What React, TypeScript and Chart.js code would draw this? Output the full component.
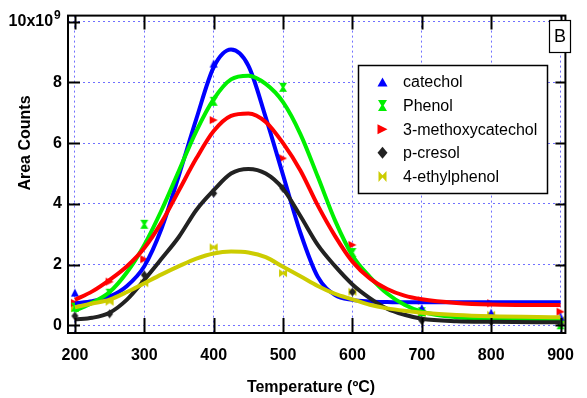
import React, { useEffect, useRef } from 'react';
import { Chart, registerables } from 'chart.js';

Chart.register(...registerables);

// ---- data (values in units of 10^9 area counts) ----
const measuredTemps = [200, 250, 300, 400, 500, 600, 700, 800, 900];
const catecholPts = [1.08, null, null, 8.62, null, null, 0.57, 0.42, 0.29];
const phenolPts = [0.6, 1.06, 3.33, 7.38, 7.84, 2.4, 0.45, null, 0.02];
const methoxyPts = [0.74, 1.44, 2.18, 6.76, 5.5, 2.65, 0.82, 0.73, 0.45];
const cresolPts = [0.31, 0.38, 1.66, 4.35, 4.51, 1.1, 0.16, 0.13, 0.05];
const ethylPts = [0.57, 0.78, 1.39, 2.57, 1.72, 1.11, 0.4, 0.35, 0.18];

const fitTemps = [200, 225, 250, 275, 300, 325, 350, 375, 400, 425, 450, 475, 500, 525, 550, 575, 600, 625, 650, 675, 700, 750, 800, 900];
const catecholFit = [0.73, 0.8, 0.95, 1.3, 1.95, 3.2, 4.95, 6.8, 8.5, 9.08, 8.55, 6.85, 4.95, 3.05, 1.6, 1.0, 0.84, 0.79, 0.77, 0.76, 0.76, 0.76, 0.76, 0.76];
const phenolFit = [0.48, 0.75, 1.1, 1.75, 2.65, 3.8, 5.1, 6.4, 7.45, 8.1, 8.22, 7.95, 7.35, 6.3, 4.9, 3.45, 2.3, 1.6, 1.05, 0.68, 0.45, 0.27, 0.22, 0.2];
const methoxyFit = [0.84, 1.12, 1.5, 1.95, 2.55, 3.4, 4.45, 5.5, 6.4, 6.9, 6.98, 6.7, 6.0, 5.1, 3.95, 2.94, 2.1, 1.55, 1.2, 0.98, 0.86, 0.74, 0.69, 0.67];
const cresolFit = [0.2, 0.25, 0.42, 0.85, 1.5, 2.2, 2.92, 3.8, 4.45, 5.0, 5.15, 5.0, 4.5, 3.6, 2.65, 1.95, 1.35, 0.9, 0.55, 0.35, 0.22, 0.14, 0.12, 0.1];
const ethylFit = [0.6, 0.72, 0.85, 1.1, 1.39, 1.68, 1.95, 2.2, 2.37, 2.43, 2.4, 2.25, 1.93, 1.62, 1.3, 1.04, 0.86, 0.68, 0.56, 0.48, 0.42, 0.34, 0.3, 0.27];

const seriesNames = ['catechol', 'Phenol', '3-methoxycatechol', 'p-cresol', '4-ethylphenol'];
const seriesColors = ['#0000ff', '#00f000', '#ff0000', '#222222', '#cccc00'];
const seriesShapes = ['up', 'hourglass', 'right', 'diamond', 'bowtie'];

const xTicks = [200, 300, 400, 500, 600, 700, 800, 900];
const yTicks = [0, 2, 4, 6, 8, 10];

const FONT = '"Liberation Sans", Arial, Helvetica, sans-serif';

function drawShape(ctx: CanvasRenderingContext2D, kind: string, cx: number, cy: number, w: number, h: number, color: string) {
  ctx.save();
  ctx.fillStyle = color;
  ctx.beginPath();
  const n = 1.2;
  switch (kind) {
    case 'up':
      ctx.moveTo(cx, cy - h / 2);
      ctx.lineTo(cx + w / 2, cy + h / 2);
      ctx.lineTo(cx - w / 2, cy + h / 2);
      break;
    case 'right':
      ctx.moveTo(cx + w / 2, cy);
      ctx.lineTo(cx - w / 2, cy - h / 2);
      ctx.lineTo(cx - w / 2, cy + h / 2);
      break;
    case 'diamond':
      ctx.moveTo(cx, cy - h / 2);
      ctx.lineTo(cx + w / 2, cy);
      ctx.lineTo(cx, cy + h / 2);
      ctx.lineTo(cx - w / 2, cy);
      break;
    case 'hourglass':
      ctx.moveTo(cx - w / 2, cy - h / 2);
      ctx.lineTo(cx + w / 2, cy - h / 2);
      ctx.lineTo(cx + n, cy);
      ctx.lineTo(cx + w / 2, cy + h / 2);
      ctx.lineTo(cx - w / 2, cy + h / 2);
      ctx.lineTo(cx - n, cy);
      break;
    case 'bowtie':
      ctx.moveTo(cx - w / 2, cy - h / 2);
      ctx.lineTo(cx, cy - n);
      ctx.lineTo(cx + w / 2, cy - h / 2);
      ctx.lineTo(cx + w / 2, cy + h / 2);
      ctx.lineTo(cx, cy + n);
      ctx.lineTo(cx - w / 2, cy + h / 2);
      break;
  }
  ctx.closePath();
  ctx.fill();
  ctx.restore();
}

function makeMarker(kind: string, color: string, w: number, h: number) {
  const c = document.createElement('canvas');
  c.width = Math.ceil(w) + 2;
  c.height = Math.ceil(h) + 2;
  const ctx = c.getContext('2d')!;
  drawShape(ctx, kind, c.width / 2, c.height / 2, w, h, color);
  return c;
}

const plotMarkerSize: Record<string, [number, number]> = {
  up: [8, 8],
  hourglass: [8, 9],
  right: [8, 8],
  diamond: [7, 9],
  bowtie: [8, 8],
};
const legendMarkerSize: Record<string, [number, number]> = {
  up: [10, 9],
  hourglass: [9, 11],
  right: [10, 10],
  diamond: [10, 12],
  bowtie: [8, 11],
};

export default function App() {
  const ref = useRef<HTMLCanvasElement>(null);

  useEffect(() => {
    document.body.style.margin = '0';
    const canvas = ref.current!;
    const ptsArrays = [catecholPts, phenolPts, methoxyPts, cresolPts, ethylPts];
    const fitArrays = [catecholFit, phenolFit, methoxyFit, cresolFit, ethylFit];

    const datasets: any[] = [];
    ptsArrays.forEach((arr, i) => {
      const [w, h] = plotMarkerSize[seriesShapes[i]];
      datasets.push({
        label: seriesNames[i],
        data: measuredTemps.map((t, j) => ({ x: t, y: arr[j] })),
        showLine: false,
        pointStyle: makeMarker(seriesShapes[i], seriesColors[i], w, h),
        pointRadius: 4,
        backgroundColor: seriesColors[i],
        borderColor: seriesColors[i],
        order: 10,
      });
    });
    fitArrays.forEach((arr, i) => {
      datasets.push({
        label: seriesNames[i] + ' fit',
        data: fitTemps.map((t, j) => ({ x: t, y: arr[j] })),
        showLine: true,
        pointRadius: 0,
        borderWidth: 4,
        borderColor: seriesColors[i],
        backgroundColor: seriesColors[i],
        cubicInterpolationMode: 'monotone',
        fill: false,
        order: 4 - i,
      });
    });

    const decor = {
      id: 'decor',
      afterDatasetsDraw(chart: any) {
        const { ctx, chartArea } = chart;
        const { left, right, top, bottom } = chartArea;
        const xs = chart.scales.x;
        const ys = chart.scales.y;
        ctx.save();
        ctx.strokeStyle = '#000';
        ctx.lineWidth = 2;
        ctx.beginPath();
        xTicks.forEach((v) => {
          const px = Math.round(xs.getPixelForValue(v)) + 0.5;
          ctx.moveTo(px, bottom);
          ctx.lineTo(px, bottom - 15);
          ctx.moveTo(px, top);
          ctx.lineTo(px, top + 14);
        });
        yTicks.forEach((v) => {
          const py = Math.round(ys.getPixelForValue(v)) + 0.5;
          ctx.moveTo(left, py);
          ctx.lineTo(left + 12, py);
          ctx.moveTo(right, py);
          ctx.lineTo(right - 10, py);
        });
        ctx.stroke();
        ctx.strokeRect(left, top, right - left, bottom - top);
        ctx.restore();
      },
      afterDraw(chart: any) {
        const { ctx } = chart;
        const ys = chart.scales.y;
        ctx.save();
        // superscript exponent on top tick
        ctx.fillStyle = '#000';
        ctx.font = `bold 12px ${FONT}`;
        ctx.textAlign = 'left';
        ctx.textBaseline = 'alphabetic';
        ctx.fillText('9', 54, ys.getPixelForValue(10) - 3);

        // axis titles
        ctx.font = `bold 16px ${FONT}`;
        ctx.textAlign = 'center';
        ctx.fillText('Temperature (ºC)', 311, 392);
        ctx.save();
        ctx.translate(30, 143);
        ctx.rotate(-Math.PI / 2);
        ctx.fillText('Area Counts', 0, 0);
        ctx.restore();

        // legend
        const lx = 358.5, ly = 65.5, lw = 189, lh = 128;
        ctx.fillStyle = '#fff';
        ctx.fillRect(lx, ly, lw, lh);
        ctx.strokeStyle = '#000';
        ctx.lineWidth = 1.5;
        ctx.strokeRect(lx, ly, lw, lh);
        ctx.font = `16px ${FONT}`;
        ctx.textAlign = 'left';
        ctx.textBaseline = 'middle';
        seriesNames.forEach((name, i) => {
          const cy = 82 + i * 23.6;
          const [w, h] = legendMarkerSize[seriesShapes[i]];
          drawShape(ctx, seriesShapes[i], 382.5, cy, w, h, seriesColors[i]);
          ctx.fillStyle = '#000';
          ctx.fillText(name, 403, cy + 1);
        });

        // panel label
        ctx.fillStyle = '#fff';
        ctx.fillRect(549.5, 20.5, 21, 32);
        ctx.strokeStyle = '#000';
        ctx.lineWidth = 1.2;
        ctx.strokeRect(549.5, 20.5, 21, 32);
        ctx.fillStyle = '#000';
        ctx.font = `18px ${FONT}`;
        ctx.textAlign = 'center';
        ctx.textBaseline = 'middle';
        ctx.fillText('B', 560, 37.5);
        ctx.restore();
      },
    };

    const chart = new Chart(canvas, {
      type: 'scatter',
      data: { datasets },
      options: {
        animation: false,
        responsive: false,
        devicePixelRatio: 1,
        layout: { padding: { left: 0, right: 10, top: 15, bottom: 0 } },
        plugins: { legend: { display: false }, tooltip: { enabled: false }, title: { display: false } },
        scales: {
          x: {
            type: 'linear',
            min: 190,
            max: 907,
            afterBuildTicks: (s: any) => { s.ticks = xTicks.map((v) => ({ value: v })); },
            afterFit: (s: any) => { s.height = 65; },
            grid: { color: '#7070ff', lineWidth: 1, drawTicks: false },
            border: { display: false, dash: [2, 3] },
            ticks: {
              color: '#000',
              padding: 13,
              maxRotation: 0,
              autoSkip: false,
              font: { family: FONT, size: 16, weight: 'bold' },
              callback: (v: any) => String(v),
            },
          },
          y: {
            type: 'linear',
            min: -0.25,
            max: 10.2,
            afterBuildTicks: (s: any) => { s.ticks = yTicks.map((v) => ({ value: v })); },
            afterFit: (s: any) => { s.width = 68; },
            grid: { color: '#7070ff', lineWidth: 1, drawTicks: false },
            border: { display: false, dash: [2, 3] },
            ticks: {
              color: '#000',
              padding: 6,
              autoSkip: false,
              font: { family: FONT, size: 16, weight: 'bold' },
              callback: (v: any) => (v === 10 ? '10x10  ' : String(v)),
            },
          },
        },
      } as any,
      plugins: [decor],
    });
    return () => chart.destroy();
  }, []);

  return (
    <div style={{ position: 'fixed', left: 0, top: 0, width: 587, height: 398, background: '#fff' }}>
      <canvas ref={ref} width={587} height={398} />
    </div>
  );
}
